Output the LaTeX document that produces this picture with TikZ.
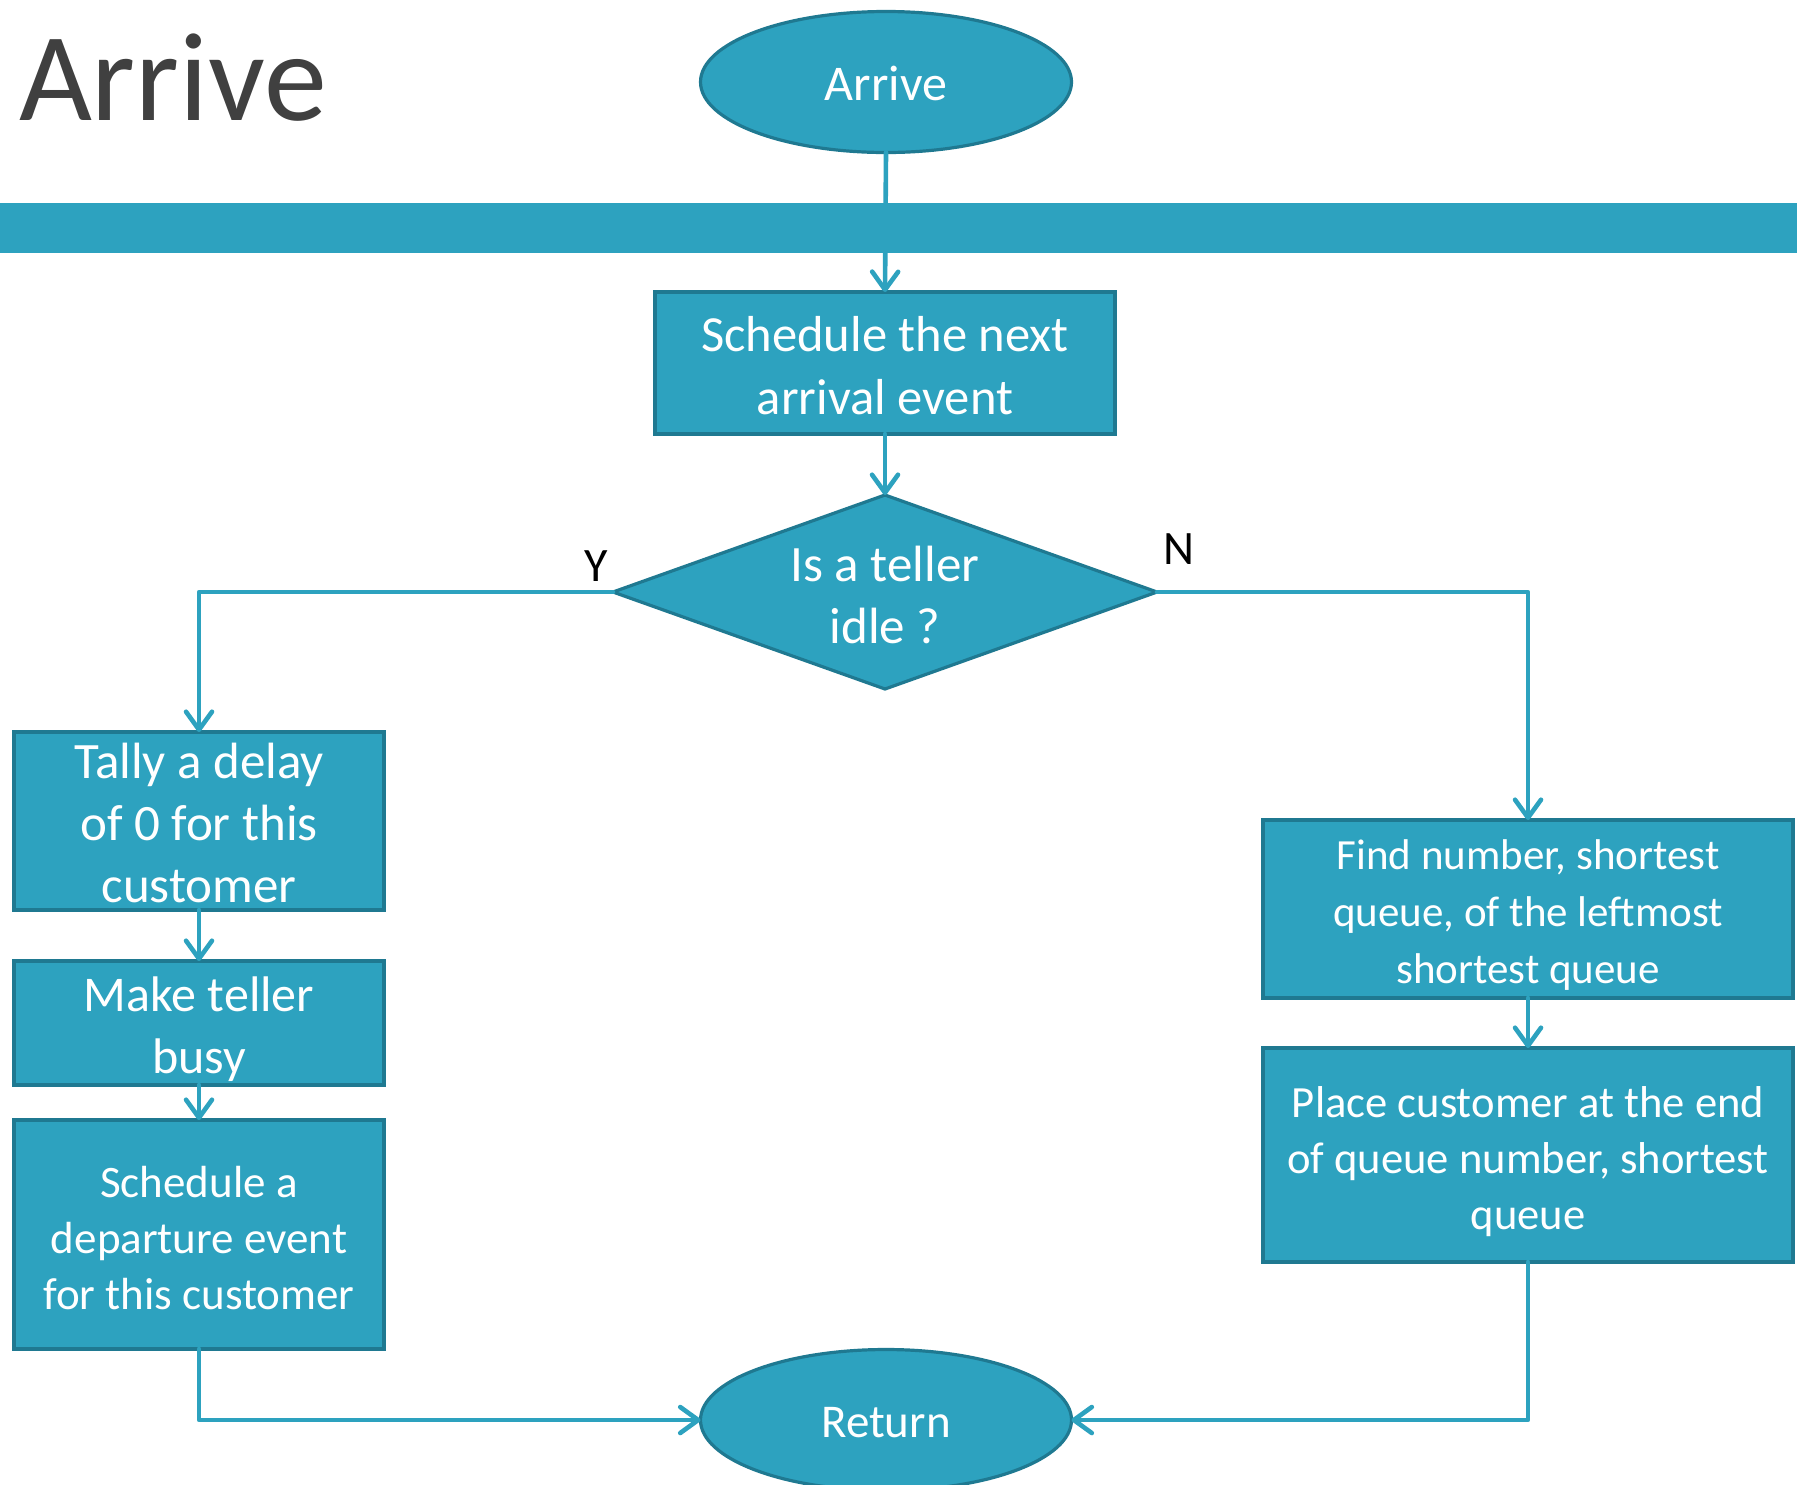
\documentclass[tikz,border=0pt]{standalone}
\usepackage{fontspec}
\setmainfont{Carlito}
\usetikzlibrary{shapes.geometric,arrows.meta}
\definecolor{flowfill}{RGB}{45,162,191}
\definecolor{flowedge}{RGB}{31,121,145}
\definecolor{titlegray}{RGB}{64,64,64}
\newcommand{\fsz}[2]{\fontsize{#1}{#2}\selectfont}
% taller first line: lowers a node's text block by half the extra height
\newcommand{\dropby}[1]{\rule{0pt}{\dimexpr 0.8em-3.2pt+#1\relax}}

\begin{document}
\begin{tikzpicture}[x=0.5pt,y=-0.5pt,
  every node/.style={inner sep=0pt,outer sep=0pt},
  stepbox/.style={rectangle,draw=flowedge,fill=flowfill,line width=1.6pt,
    text=white,align=center},
  terminal/.style={ellipse,draw=flowedge,fill=flowfill,line width=1.6pt,
    text=white,minimum width=185.5pt,minimum height=70.5pt},
  decision/.style={diamond,draw=flowedge,fill=flowfill,line width=1.6pt,
    text=white,align=center,shape aspect=2.8,
    minimum width=272pt,minimum height=97pt},
  flow/.style={draw=flowfill,line width=2.3pt,line cap=round,line join=round,
    -{Straight Barb[length=9pt,width=13pt,line cap=round,line join=round]}},
  branch/.style={font=\fsz{24}{28}, text=black}
]
\useasboundingbox (0,0) rectangle (1797,1484);
\clip (0,0) rectangle (1797,1484);

% slide title
\node[anchor=base west,text=titlegray,font=\fsz{63}{70}] (title) at (19,120) {Arrive};

% start and end terminals
\node[terminal,font=\fsz{25}{30}] (arrive) at (886,82) {\dropby{2.1pt}Arrive};
\node[terminal,font=\fsz{23.5}{28}] (ret) at (886,1420) {\dropby{2pt}Return};

% main column
\node[stepbox,minimum width=230pt,minimum height=71pt,font=\fsz{25.3}{31.5}]
  (next) at (885,363) {\dropby{2.8pt}Schedule the next\\arrival event};
\node[decision,font=\fsz{25.5}{31}] (idle) at (885,592) {\dropby{3.2pt}Is a teller\\idle ?};

% idle teller branch
\node[stepbox,minimum width=185pt,minimum height=89pt,font=\fsz{25.5}{31}]
  (tally) at (199,821) {\dropby{2.8pt}Tally a delay\\of 0 for this\\customer};
\node[stepbox,minimum width=185pt,minimum height=62pt,font=\fsz{25}{31}]
  (busy) at (199,1023) {\dropby{6.6pt}Make teller\\busy};
\node[stepbox,minimum width=185pt,minimum height=114.5pt,font=\fsz{22.5}{28}]
  (depart) at (199,1234.5) {\dropby{4.3pt}Schedule a\\departure event\\for this customer};

% all tellers busy branch
\node[stepbox,minimum width=265pt,minimum height=89pt,font=\fsz{21.5}{28.5}]
  (find) at (1528,909) {\dropby{6.6pt}Find number, shortest\\queue, of the leftmost\\shortest queue};
\node[stepbox,minimum width=265pt,minimum height=107pt,font=\fsz{22.3}{28}]
  (place) at (1528,1155) {\dropby{7.8pt}Place customer at the end\\of queue number, shortest\\queue};

% branch labels
\node[branch] (ylab) at (596,566) {Y};
\node[branch] (nlab) at (1179,549) {N};

% connectors
\draw[flow] (arrive.south) -- (next.north);
\draw[flow] (next.south) -- (idle.north);
\draw[flow] (idle.west) -| (tally.north);
\draw[flow] (idle.east) -| (find.north);
\draw[flow] (tally.south) -- (busy.north);
\draw[flow] (busy.south) -- (depart.north);
\draw[flow] (find.south) -- (place.north);
\draw[flow] (depart.south) |- (ret.west);
\draw[flow] (place.south) |- (ret.east);

% header band across the slide
\fill[flowfill] (0,203) rectangle (1797,253);
\end{tikzpicture}
\end{document}
